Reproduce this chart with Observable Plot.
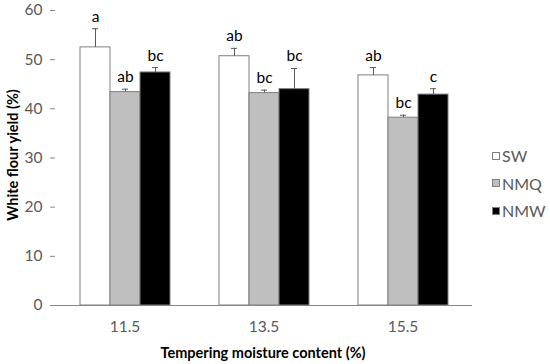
<!DOCTYPE html>
<html><head><meta charset="utf-8">
<script src="https://cdn.jsdelivr.net/npm/d3@7"></script>
<script src="https://cdn.jsdelivr.net/npm/@observablehq/plot@0.6"></script>
<style>
body{margin:0;background:#fff;font-family:Lato,"Open Sans",sans-serif;}
#wrap{position:relative;width:550px;height:364px;}
.ttl{position:absolute;font-weight:bold;font-size:14.5px;color:#000;white-space:nowrap;}
#legend{position:absolute;left:492px;top:142px;font-size:16px;color:#595959;}
.li{display:flex;align-items:center;height:27.5px;}
.sw{width:8px;height:8px;border:1px solid #7f7f7f;margin-right:2px;box-sizing:border-box;}
</style></head>
<body><div id="wrap"></div>
<script>
const groups = ["11.5", "13.5", "15.5"];
const series = ["SW", "NMQ", "NMW"];
const swMean = [52.5, 50.7, 46.8];
const swErr = [3.8, 1.6, 1.6];
const swLetter = ["a", "ab", "ab"];
const nmqMean = [43.4, 43.2, 38.2];
const nmqErr = [0.6, 0.6, 0.5];
const nmqLetter = ["ab", "bc", "bc"];
const nmwMean = [47.4, 44.0, 42.9];
const nmwErr = [1.0, 4.2, 1.2];
const nmwLetter = ["bc", "bc", "c"];
const yTicks = [0, 10, 20, 30, 40, 50, 60];
const colors = ["#ffffff", "#bfbfbf", "#000000"];

const means = [swMean, nmqMean, nmwMean];
const errs = [swErr, nmqErr, nmwErr];
const letters = [swLetter, nmqLetter, nmwLetter];
const data = [];
groups.forEach((g, gi) => series.forEach((s, si) => {
  data.push({group: g, series: s, mean: means[si][gi], hi: means[si][gi] + errs[si][gi], letter: letters[si][gi]});
}));

const chart = Plot.plot({
  width: 550, height: 364,
  marginLeft: 54, marginRight: 77, marginTop: 10, marginBottom: 59,
  style: {fontFamily: "Lato, 'Open Sans', sans-serif", fontSize: "15px", background: "#fff"},
  fx: {domain: groups, padding: 0, label: null},
  x: {domain: series, paddingInner: 0, paddingOuter: 0.75, axis: null},
  y: {domain: [0, 60], label: null},
  color: {domain: series, range: colors},
  marks: [
    Plot.axisY({ticks: yTicks, tickSize: 5, tickPadding: 8, stroke: "#868686", color: "#595959", fontSize: 15.5, label: null, line: true}),
    Plot.axisFx({anchor: "bottom", tickSize: 0, tickPadding: 15, color: "#595959", fontSize: 15.5, label: null}),
    Plot.barY(data, {fx: "group", x: "series", y: "mean", fill: "series", stroke: "#7f7f7f", strokeWidth: 1}),
    Plot.ruleX(data, {fx: "group", x: "series", y1: "mean", y2: "hi", stroke: "#595959", strokeWidth: 1}),
    Plot.tickY(data, {fx: "group", x: "series", y: "hi", stroke: "#595959", strokeWidth: 1, insetLeft: 12, insetRight: 12}),
    Plot.text(data, {fx: "group", x: "series", y: "hi", text: "letter", dy: -12, fill: "#000", fontSize: 15.5}),
    Plot.ruleY([0], {stroke: "#868686"})
  ]
});
const wrap = document.getElementById("wrap");
wrap.appendChild(chart);

const yl = document.createElement("div");
yl.className = "ttl";
yl.textContent = "White flour yield (%)";
yl.style.left = "12px"; yl.style.top = "155px";
yl.style.transform = "translate(-50%,-50%) rotate(-90deg)";
wrap.appendChild(yl);

const xl = document.createElement("div");
xl.className = "ttl";
xl.textContent = "Tempering moisture content (%)";
xl.style.left = "263px"; xl.style.top = "352px";
xl.style.transform = "translate(-50%,-50%)";
wrap.appendChild(xl);

const lg = document.createElement("div");
lg.id = "legend";
series.forEach((s, i) => {
  const row = document.createElement("div"); row.className = "li";
  const sq = document.createElement("div"); sq.className = "sw"; sq.style.background = colors[i];
  const t = document.createElement("span"); t.textContent = s;
  row.appendChild(sq); row.appendChild(t); lg.appendChild(row);
});
wrap.appendChild(lg);
</script></body></html>
